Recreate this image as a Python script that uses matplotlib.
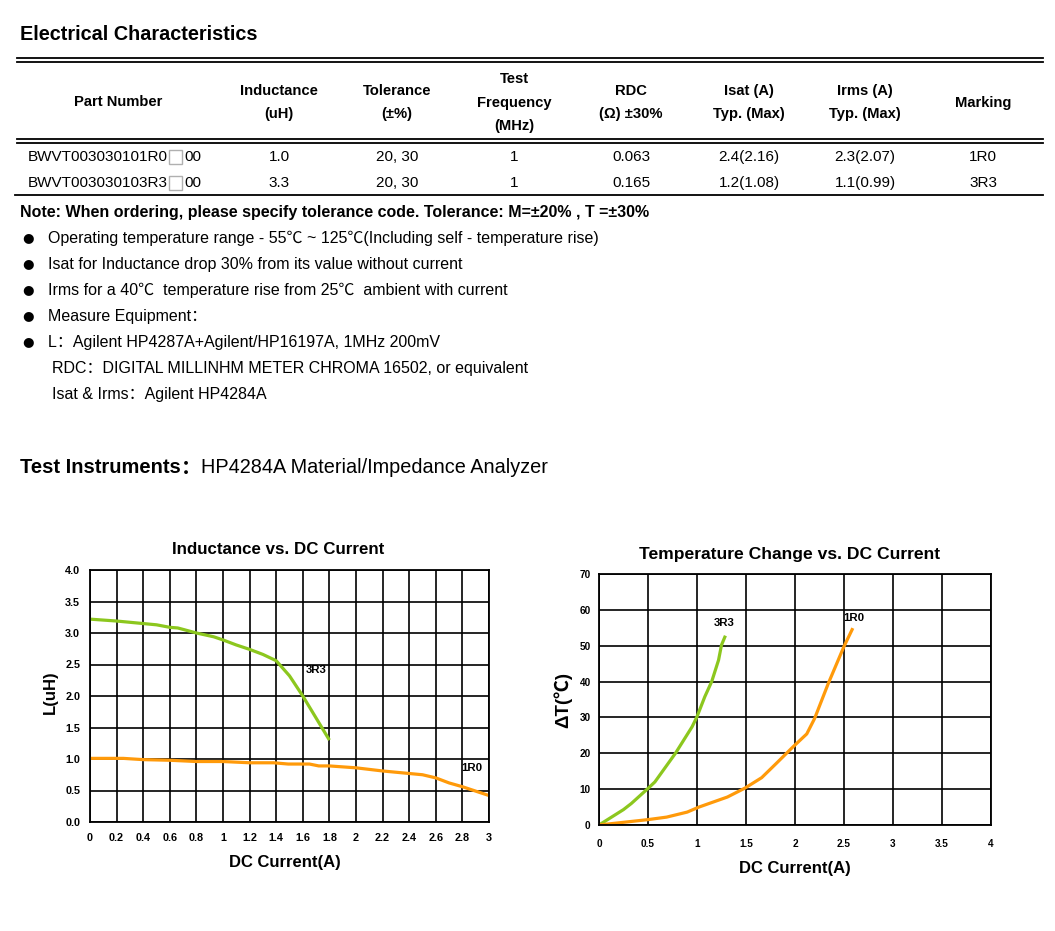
import matplotlib
matplotlib.use('Agg')
import matplotlib.pyplot as plt
from matplotlib.lines import Line2D
from matplotlib.patches import Rectangle

# ---------------- data ----------------
header_cols = ["Part Number", "Inductance\n\n(uH)", "Tolerance\n\n(±%)", "Test\n\nFrequency\n\n(MHz)",
               "RDC\n\n(Ω) ±30%", "Isat (A)\n\nTyp. (Max)", "Irms (A)\n\nTyp. (Max)", "Marking"]
part_prefix = ["BWVT003030101R0", "BWVT003030103R3"]
part_suffix = ["00", "00"]
inductance = ["1.0", "3.3"]
tolerance = ["20, 30", "20, 30"]
test_freq = ["1", "1"]
rdc = ["0.063", "0.165"]
isat = ["2.4(2.16)", "1.2(1.08)"]
irms = ["2.3(2.07)", "1.1(0.99)"]
marking = ["1R0", "3R3"]

bullets = [
    "Operating temperature range - 55℃ ~ 125℃(Including self - temperature rise)",
    "Isat for Inductance drop 30% from its value without current",
    "Irms for a 40℃  temperature rise from 25℃  ambient with current",
    "Measure Equipment：",
    "L：Agilent HP4287A+Agilent/HP16197A, 1MHz 200mV",
]
sub_lines = ["RDC：DIGITAL MILLINHM METER CHROMA 16502, or equivalent",
             "Isat & Irms：Agilent HP4284A"]

ind_x_3r3 = [0, 0.2, 0.4, 0.5, 0.6, 0.66, 0.8, 0.93, 1.0, 1.1, 1.2, 1.3, 1.4, 1.5, 1.6, 1.8]
ind_y_3r3 = [3.22, 3.19, 3.15, 3.13, 3.09, 3.08, 3.00, 2.94, 2.89, 2.81, 2.74, 2.66, 2.56, 2.32, 2.00, 1.30]
ind_x_1r0 = [0, 0.25, 0.4, 0.6, 0.8, 1.0, 1.2, 1.38, 1.49, 1.65, 1.72, 1.8, 2.0, 2.2, 2.4, 2.5, 2.6, 2.7, 2.8, 3.0]
ind_y_1r0 = [1.01, 1.01, 0.99, 0.98, 0.96, 0.96, 0.94, 0.94, 0.92, 0.92, 0.89, 0.89, 0.86, 0.81, 0.77, 0.75,
             0.70, 0.62, 0.56, 0.42]

temp_x_3r3 = [0, 0.25, 0.33, 0.5, 0.57, 0.78, 0.95, 1.0, 1.08, 1.15, 1.22, 1.25, 1.29]
temp_y_3r3 = [0, 4.3, 6.0, 10.2, 12.0, 20, 27.4, 30.2, 35.8, 40, 46, 50.2, 52.8]
temp_x_1r0 = [0, 0.5, 0.69, 0.9, 1.02, 1.31, 1.49, 1.66, 1.81, 1.98, 2.12, 2.2, 2.34, 2.5, 2.59]
temp_y_1r0 = [0, 1.5, 2.2, 3.6, 5.0, 7.8, 10.3, 13.2, 17.2, 21.8, 25.4, 29.7, 39.5, 49.8, 54.9]

ind_xticks = [0, 0.2, 0.4, 0.6, 0.8, 1, 1.2, 1.4, 1.6, 1.8, 2, 2.2, 2.4, 2.6, 2.8, 3]
ind_xticklabels = ["0", "0.2", "0.4", "0.6", "0.8", "1", "1.2", "1.4", "1.6", "1.8", "2", "2.2", "2.4",
                   "2.6", "2.8", "3"]
ind_yticks = [0, 0.5, 1.0, 1.5, 2.0, 2.5, 3.0, 3.5, 4.0]
ind_yticklabels = ["0.0", "0.5", "1.0", "1.5", "2.0", "2.5", "3.0", "3.5", "4.0"]
temp_xticks = [0, 0.5, 1, 1.5, 2, 2.5, 3, 3.5, 4]
temp_xticklabels = ["0", "0.5", "1", "1.5", "2", "2.5", "3", "3.5", "4"]
temp_yticks = [0, 10, 20, 30, 40, 50, 60, 70]

GREEN = "#8CC71E"
ORANGE = "#FF9A0A"

# ---------------- figure ----------------
W, H = 1055, 931
fig = plt.figure(figsize=(W / 100, H / 100), dpi=100)
FAM = ['Liberation Sans', 'Noto Sans CJK SC', 'DejaVu Sans']


def fx(x):
    return x / W


def fy(y):
    return 1 - y / H


def txt(x, y, s, size=11, weight='normal', ha='left', va='center', **kw):
    return fig.text(fx(x), fy(y), s, fontsize=size, fontweight=weight, ha=ha, va=va,
                    family=FAM, **kw)


def hline(x0, x1, y, lw=1.2):
    fig.add_artist(Line2D([fx(x0), fx(x1)], [fy(y), fy(y)], color='black', lw=lw,
                          transform=fig.transFigure))


renderer = fig.canvas.get_renderer()

# Title
txt(20, 35, "Electrical Characteristics", size=14.3, weight='bold')

# Table rules
hline(17, 1043, 58, 1.3)
hline(17, 1043, 61.5, 1.3)
hline(17, 1043, 139, 1.3)
hline(17, 1043, 142.5, 1.3)
hline(15, 1043, 194.5, 1.3)

col_x = [118, 279, 397, 514, 631, 749, 865, 983]
for cx, h in zip(col_x, header_cols):
    fig.text(fx(cx), fy(102.5), h, fontsize=10.6, fontweight='bold', ha='center', va='center',
             family=FAM, linespacing=0.8)

row_y = [157, 183]
for i, ry in enumerate(row_y):
    t = txt(28, ry, part_prefix[i], size=11)
    bb = t.get_window_extent(renderer)
    xr = bb.x1
    fig.add_artist(Rectangle((fx(xr + 1), fy(ry + 7)), 13 / W, 14 / H, transform=fig.transFigure,
                             fill=False, edgecolor='#b0b0b0', lw=1.0))
    txt(xr + 16, ry, part_suffix[i], size=11)
    for cx, vals in zip(col_x[1:], [inductance, tolerance, test_freq, rdc, isat, irms, marking]):
        txt(cx, ry, vals[i], size=11, ha='center')

# Note
txt(20, 212, "Note: When ordering, please specify tolerance code. Tolerance: M=±20% , T =±30%",
    size=11.5, weight='bold')

# Bullets
for k, b in enumerate(bullets):
    y = 238 + 26 * k
    fig.text(fx(22), fy(y), "●", fontsize=9.5, ha='left', va='center', family='DejaVu Sans')
    txt(48, y, b, size=11.5)
for k, s in enumerate(sub_lines):
    txt(52, 368 + 26 * k, s, size=11.5)

# Test instruments
t1 = txt(20, 468, "Test Instruments", size=14.5, weight='bold')
bb = t1.get_window_extent(renderer)
fig.text(fx(bb.x1 + 10), fy(468), "：", fontsize=14.5, fontweight='bold', ha='center', va='center',
         family=['Noto Sans CJK SC'])
txt(bb.x1 + 20, 468, "HP4284A Material/Impedance Analyzer", size=14.3)

# ---------------- charts ----------------
def style_axes(ax, tsize):
    for sp in ax.spines.values():
        sp.set_color('black')
        sp.set_linewidth(1.3)
    ax.grid(True, color='black', lw=1.2)
    ax.set_axisbelow(True)
    ax.tick_params(length=0)
    for lab in ax.get_xticklabels() + ax.get_yticklabels():
        lab.set_fontweight('bold')
        lab.set_fontsize(tsize)
        lab.set_family(FAM)


# Inductance chart
ax1 = fig.add_axes([fx(90), fy(822), (489 - 90) / W, (822 - 570) / H])
ax1.plot(ind_x_3r3, ind_y_3r3, color=GREEN, lw=2.3, solid_capstyle='butt')
ax1.plot(ind_x_1r0, ind_y_1r0, color=ORANGE, lw=2.3, solid_capstyle='butt')
ax1.set_xlim(0, 3)
ax1.set_ylim(0, 4)
ax1.set_xticks(ind_xticks)
ax1.set_xticklabels(ind_xticklabels)
ax1.set_yticks(ind_yticks)
ax1.set_yticklabels(ind_yticklabels)
ax1.tick_params(axis='x', pad=8)
ax1.tick_params(axis='y', pad=7)
style_axes(ax1, 7.8)
ax1.text(1.70, 2.42, "3R3", fontsize=8.2, fontweight='bold', ha='center', va='center', family=FAM)
ax1.text(2.87, 0.85, "1R0", fontsize=8.2, fontweight='bold', ha='center', va='center', family=FAM)

txt(278, 550, "Inductance vs. DC Current", size=12.2, weight='bold', ha='center')
txt(285, 863, "DC Current(A)", size=12, weight='bold', ha='center')
txt(50, 692, "L(uH)", size=12, weight='bold', ha='center', rotation=90)

# Temperature chart
ax2 = fig.add_axes([fx(599), fy(825), (991 - 599) / W, (825 - 574) / H])
ax2.plot(temp_x_3r3, temp_y_3r3, color=GREEN, lw=2.3, solid_capstyle='butt')
ax2.plot(temp_x_1r0, temp_y_1r0, color=ORANGE, lw=2.3, solid_capstyle='butt')
ax2.set_xlim(0, 4)
ax2.set_ylim(0, 70)
ax2.set_xticks(temp_xticks)
ax2.set_xticklabels(temp_xticklabels)
ax2.set_yticks(temp_yticks)
ax2.tick_params(axis='x', pad=10)
ax2.tick_params(axis='y', pad=6)
style_axes(ax2, 7.2)
ax2.text(1.28, 56.3, "3R3", fontsize=8.2, fontweight='bold', ha='center', va='center', family=FAM)
ax2.text(2.60, 57.7, "1R0", fontsize=8.2, fontweight='bold', ha='center', va='center', family=FAM)

txt(790, 555, "Temperature Change vs. DC Current", size=12.6, weight='bold', ha='center')
txt(795, 869, "DC Current(A)", size=12, weight='bold', ha='center')
txt(563, 700, "ΔT(℃)", size=13.5, weight='bold', ha='center', rotation=90)

fig.savefig("out.png", dpi=100, facecolor='white')
